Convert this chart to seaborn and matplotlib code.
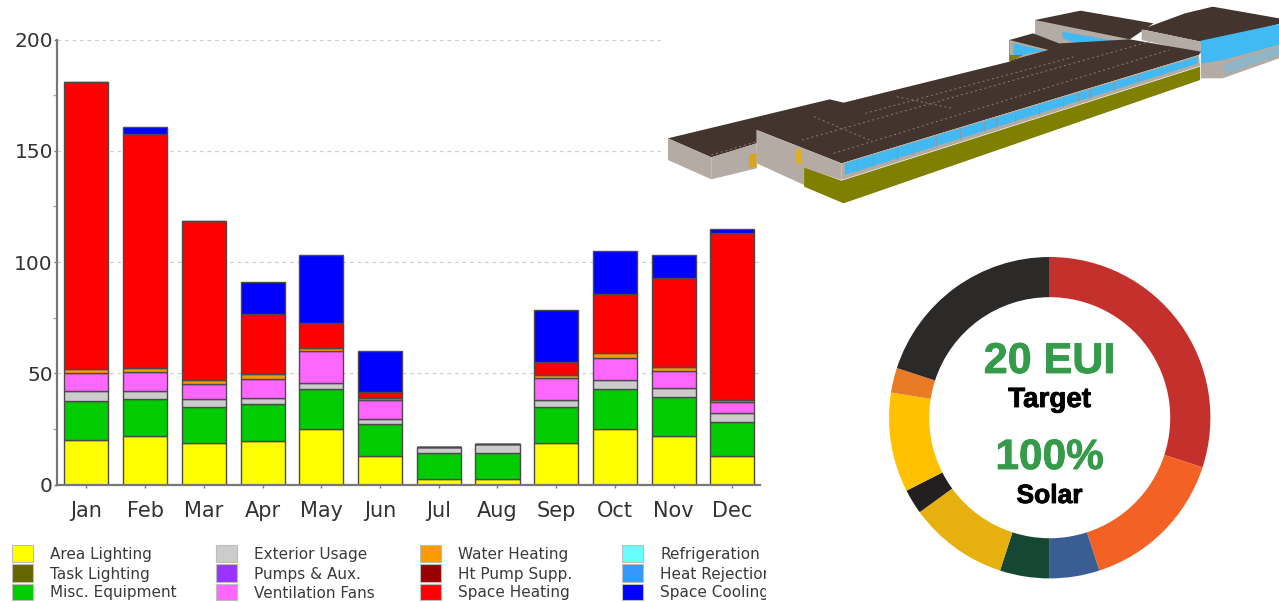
import matplotlib
matplotlib.use('Agg')
import matplotlib.pyplot as plt
import matplotlib.patheffects as pe
from matplotlib.patches import Polygon, Rectangle
import numpy as np
import seaborn as sns

months = ['Jan', 'Feb', 'Mar', 'Apr', 'May', 'Jun', 'Jul', 'Aug', 'Sep', 'Oct', 'Nov', 'Dec']

# monthly end uses, stacked from the bottom up
area_lighting = [20, 22, 18.5, 19.5, 25, 13, 2.5, 2.5, 18.5, 25, 22, 13]
misc_equipment = [17.5, 16.5, 16.5, 16.5, 18, 14, 11.5, 11.5, 16.5, 18, 17.5, 15]
exterior_usage = [4.5, 3.5, 3.5, 3, 2.5, 2.5, 3, 4, 3, 4, 4, 4]
ventilation_fans = [8, 8.5, 6.5, 8.5, 14.5, 8.5, 0, 0, 10, 10, 7.5, 5]
water_heating = [2, 2, 2, 2, 1.5, 1, 0, 0, 1, 2, 2, 1]
space_heating = [129, 105, 71.5, 27, 11, 2.5, 0, 0, 6, 26.5, 40, 75]
space_cooling = [0, 3, 0, 14.5, 30.5, 18.5, 0, 0, 23.5, 19.5, 10, 2]

stack = [
    (area_lighting, '#ffff00'),
    (misc_equipment, '#00cc00'),
    (exterior_usage, '#cccccc'),
    (ventilation_fans, '#ff66ff'),
    (water_heating, '#ff9900'),
    (space_heating, '#ff0000'),
    (space_cooling, '#0000ff'),
]

legend_labels = [
    ['Area Lighting', 'Task Lighting', 'Misc. Equipment'],
    ['Exterior Usage', 'Pumps & Aux.', 'Ventilation Fans'],
    ['Water Heating', 'Ht Pump Supp.', 'Space Heating'],
    ['Refrigeration', 'Heat Rejection', 'Space Cooling'],
]
legend_colors = [
    ['#ffff00', '#666600', '#00cc00'],
    ['#cccccc', '#9933ff', '#ff66ff'],
    ['#ff9900', '#990000', '#ff0000'],
    ['#66ffff', '#3399ff', '#0000ff'],
]

donut_shares = [30, 15, 5, 5, 10, 2.5, 10, 2.5, 20]
donut_colors = ['#c4302c', '#f36224', '#3a5d93', '#154734', '#e6b00f',
                '#231f20', '#ffc000', '#e97b26', '#2b2a29']

ROOF = '#43352e'
WALL = '#b3aba4'
OLIVE = '#808000'
GLASS = '#41b9f2'
building = [
    ([(950, 60), (1065, 32), (1250, 70), (1190, 118), (1000, 150)], ROOF),
    ([(950, 60), (1190, 118), (1015, 150), (950, 110)], WALL),
    ([(1020, 95), (1165, 126), (1080, 140), (1020, 115)], GLASS),
    ([(885, 120), (945, 100), (1015, 132), (985, 155), (885, 185)], ROOF),
    ([(885, 120), (985, 150), (885, 182)], WALL),
    ([(895, 130), (975, 152), (895, 170)], GLASS),
    ([(885, 165), (920, 165), (885, 185)], OLIVE),
    ([(1220, 88), (1330, 40), (1400, 20), (1568, 55), (1568, 72), (1400, 122), (1370, 125)], ROOF),
    ([(1220, 88), (1370, 125), (1370, 160), (1220, 120)], WALL),
    ([(1370, 122), (1568, 72), (1568, 135), (1425, 185), (1370, 195)], GLASS),
    ([(1370, 190), (1425, 180), (1568, 135), (1568, 175), (1425, 235), (1370, 235)], WALL),
    ([(1430, 192), (1568, 140), (1568, 165), (1430, 222)], '#8fb6c8'),
    ([(20, 415), (430, 298), (465, 308), (885, 185), (985, 150), (1015, 130), (1190, 118), (1370, 155),
      (1365, 165), (460, 490), (245, 390), (245, 430), (130, 472)], ROOF),
    ([(20, 415), (130, 472), (130, 538), (20, 480)], WALL),
    ([(130, 472), (245, 430), (245, 505), (130, 538)], WALL),
    ([(225, 465), (245, 458), (245, 500), (225, 505)], '#d9a521'),
    ([(245, 390), (460, 490), (460, 540), (365, 505), (365, 555), (245, 490)], WALL),
    ([(343, 445), (360, 452), (360, 495), (343, 488)], '#e0ad26'),
    ([(460, 490), (1365, 165), (1368, 198), (460, 540)], WALL),
    ([(468, 490), (1362, 170), (1362, 190), (468, 525)], GLASS),
    ([(365, 503), (460, 542), (1368, 200), (1368, 240), (465, 610), (365, 560)], OLIVE),
]
roof_seams = [
    [(130, 465), (245, 425)],
    [(360, 420), (1240, 125)],
    [(440, 460), (1290, 150)],
    [(520, 340), (1050, 170)],
    [(390, 350), (530, 420)],
    [(600, 290), (740, 325)],
]
window_bars = [500, 540, 600, 640, 700, 760, 820, 850, 900, 960, 1020, 1060, 1090, 1150, 1210, 1270, 1330]


def sketch_px(points):
    # the crop was read at 2.53x across and 3x down, offset 660 px
    pts = np.array(points, dtype=float)
    return np.column_stack([660 + pts[:, 0] / 2.533, pts[:, 1] / 3])


sns.set_theme(style='white')
plt.rcParams['font.family'] = ['DejaVu Sans']

fig = plt.figure(figsize=(12.79, 6.02), dpi=100)
W, H = 1279, 602

# ---- stacked bars
ax = fig.add_axes([57 / W, 1 - 484.5 / H, (760 - 57) / W, 445 / H])
bottom = np.zeros(len(months))
for values, color in stack:
    sns.barplot(x=months, y=values, bottom=bottom, color=color, saturation=1, width=0.75,
                edgecolor='#4a4a4a', linewidth=1.0, ax=ax)
    bottom = bottom + np.array(values)

ax.set_xlim(-0.5, 11.47)
ax.set_ylim(0, 200)
ax.set_yticks([0, 50, 100, 150, 200])
ax.set_yticks([25, 75, 125, 175], minor=True)
ax.yaxis.grid(True, color='#d0d0d0', linestyle=(0, (3, 3)), linewidth=0.9)
ax.set_axisbelow(True)
ax.tick_params(axis='y', which='major', labelsize=14.5, colors='#333333', length=2, width=1, pad=1,
               left=True, color='#777777')
ax.tick_params(axis='y', which='minor', length=3, width=1, left=True, color='#aaaaaa')
ax.tick_params(axis='x', labelsize=15, labelcolor='#333333', length=2, width=1, bottom=True,
               color='#777777', pad=10)
for side in ['top', 'right']:
    ax.spines[side].set_visible(False)
for side in ['left', 'bottom']:
    ax.spines[side].set_color('#777777')
    ax.spines[side].set_linewidth(1.6)
ax.set_xlabel('')
ax.set_ylabel('')

# ---- pixel overlay for the legend and the building sketch
over = fig.add_axes([0, 0, 1, 1], facecolor='none')
over.set_xlim(0, W)
over.set_ylim(H, 0)
over.axis('off')

over.add_patch(Rectangle((661, 0), W - 661, 222, facecolor='white', edgecolor='none'))
for points, color in building:
    over.add_patch(Polygon(sketch_px(points), closed=True, facecolor=color, edgecolor='none'))
for seam in roof_seams:
    xy = sketch_px(seam)
    over.plot(xy[:, 0], xy[:, 1], color='#8d7f70', linewidth=0.7, linestyle=(0, (2, 3)))
for bar_x in window_bars:
    frac = (bar_x - 468) / (1362 - 468)
    y_top = 490 + frac * (170 - 490)
    y_low = 525 + frac * (190 - 525)
    xy = sketch_px([(bar_x, y_top), (bar_x, y_low)])
    over.plot(xy[:, 0], xy[:, 1], color='#7f9db0', linewidth=0.8)

col_x = [12, 216, 420, 622]
row_y = [545, 564, 584]
row_h = [17, 18, 16]
clip = Rectangle((0, 530), 766, 72, transform=over.transData)
for col, x in enumerate(col_x):
    for row, y in enumerate(row_y):
        over.add_patch(Rectangle((x, y), 21, row_h[row], facecolor=legend_colors[col][row],
                                 edgecolor='#bdbdbd', linewidth=0.8))
        label = over.text(x + 38, y + row_h[row] / 2 + 1, legend_labels[col][row], fontsize=11,
                          color='#3a3a3a', va='center', ha='left')
        label.set_clip_path(clip)
        label.set_clip_on(True)

# ---- donut
dax = fig.add_axes([(1049.7 - 160.7) / W, 1 - (417.7 + 160.7) / H, 321.4 / W, 321.4 / H])
dax.pie(donut_shares, colors=donut_colors, startangle=90, counterclock=False, radius=1,
        wedgeprops={'width': 0.25, 'edgecolor': 'none'})
dax.set_xlim(-1, 1)
dax.set_ylim(-1, 1)

centre = 1049.5
over.set_zorder(3)
bold = dict(family='Liberation Sans', fontweight='bold', ha='center', va='center')
for x_text, y_text, text, size, color in [
    (centre, 362, '20 EUI', 31, '#359a4a'),
    (centre, 400, 'Target', 20, 'black'),
    (centre, 458, '100%', 30.5, '#359a4a'),
    (centre, 496, 'Solar', 19, 'black'),
]:
    over.text(x_text, y_text, text, fontsize=size, color=color,
              path_effects=[pe.withStroke(linewidth=0.6, foreground=color)], **bold)

fig.savefig('out.png', dpi=100)
